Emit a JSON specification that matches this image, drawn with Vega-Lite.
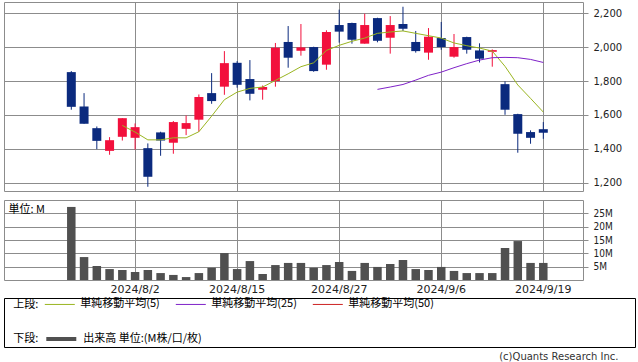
{
  "$schema": "https://vega.github.io/schema/vega-lite/v6.json",
  "padding": {"left": 3, "top": 1, "right": 0, "bottom": 0},
  "background": "white",
  "datasets": {
    "ohlc": [
      {"d": "2024/7/26", "o": 1853, "h": 1859, "l": 1631, "c": 1648, "v": 27.4, "ma5": null, "ma25": null},
      {"d": "2024/7/29", "o": 1650, "h": 1729, "l": 1548, "c": 1548, "v": 8.6, "ma5": null, "ma25": null},
      {"d": "2024/7/30", "o": 1522, "h": 1532, "l": 1398, "c": 1447, "v": 5.25, "ma5": null, "ma25": null},
      {"d": "2024/7/31", "o": 1388, "h": 1469, "l": 1365, "c": 1451, "v": 4.1, "ma5": null, "ma25": null},
      {"d": "2024/8/1", "o": 1471, "h": 1581, "l": 1449, "c": 1581, "v": 3.75, "ma5": 1538, "ma25": null},
      {"d": "2024/8/2", "o": 1465, "h": 1550, "l": 1396, "c": 1528, "v": 3.0, "ma5": 1499, "ma25": null},
      {"d": "2024/8/5", "o": 1404, "h": 1432, "l": 1176, "c": 1235, "v": 3.75, "ma5": 1453, "ma25": null},
      {"d": "2024/8/6", "o": 1497, "h": 1501, "l": 1359, "c": 1449, "v": 2.6, "ma5": 1453, "ma25": null},
      {"d": "2024/8/7", "o": 1436, "h": 1564, "l": 1371, "c": 1558, "v": 1.9, "ma5": 1465, "ma25": null},
      {"d": "2024/8/8", "o": 1518, "h": 1597, "l": 1481, "c": 1552, "v": 1.1, "ma5": 1465, "ma25": null},
      {"d": "2024/8/9", "o": 1572, "h": 1721, "l": 1501, "c": 1706, "v": 2.6, "ma5": 1501, "ma25": null},
      {"d": "2024/8/13", "o": 1729, "h": 1847, "l": 1666, "c": 1682, "v": 4.6, "ma5": 1593, "ma25": null},
      {"d": "2024/8/14", "o": 1767, "h": 1977, "l": 1719, "c": 1906, "v": 10.1, "ma5": 1690, "ma25": null},
      {"d": "2024/8/15", "o": 1908, "h": 1918, "l": 1761, "c": 1778, "v": 4.1, "ma5": 1735, "ma25": null},
      {"d": "2024/8/16", "o": 1812, "h": 1924, "l": 1686, "c": 1725, "v": 7.1, "ma5": 1757, "ma25": null},
      {"d": "2024/8/19", "o": 1749, "h": 1774, "l": 1690, "c": 1765, "v": 2.25, "ma5": 1765, "ma25": null},
      {"d": "2024/8/20", "o": 1800, "h": 2025, "l": 1767, "c": 1997, "v": 5.6, "ma5": 1804, "ma25": null},
      {"d": "2024/8/21", "o": 2031, "h": 2125, "l": 1879, "c": 1938, "v": 6.4, "ma5": 1843, "ma25": null},
      {"d": "2024/8/22", "o": 1979, "h": 2137, "l": 1950, "c": 1999, "v": 6.4, "ma5": 1885, "ma25": null},
      {"d": "2024/8/23", "o": 2001, "h": 2003, "l": 1855, "c": 1859, "v": 4.6, "ma5": 1908, "ma25": null},
      {"d": "2024/8/26", "o": 1897, "h": 2100, "l": 1867, "c": 2090, "v": 5.6, "ma5": 1981, "ma25": null},
      {"d": "2024/8/27", "o": 2131, "h": 2222, "l": 2027, "c": 2092, "v": 6.75, "ma5": 2011, "ma25": null},
      {"d": "2024/8/28", "o": 2143, "h": 2145, "l": 2021, "c": 2044, "v": 3.4, "ma5": 2035, "ma25": null},
      {"d": "2024/8/29", "o": 2021, "h": 2198, "l": 2021, "c": 2131, "v": 6.4, "ma5": 2054, "ma25": null},
      {"d": "2024/8/30", "o": 2172, "h": 2174, "l": 2029, "c": 2038, "v": 4.9, "ma5": 2082, "ma25": 1751},
      {"d": "2024/9/2", "o": 2056, "h": 2184, "l": 1962, "c": 2131, "v": 6.0, "ma5": 2090, "ma25": 1765},
      {"d": "2024/9/3", "o": 2137, "h": 2239, "l": 2096, "c": 2109, "v": 7.5, "ma5": 2096, "ma25": 1780},
      {"d": "2024/9/4", "o": 2031, "h": 2096, "l": 1968, "c": 1977, "v": 4.1, "ma5": 2082, "ma25": 1806},
      {"d": "2024/9/5", "o": 1968, "h": 2113, "l": 1926, "c": 2062, "v": 3.75, "ma5": 2068, "ma25": 1834},
      {"d": "2024/9/6", "o": 2054, "h": 2149, "l": 1985, "c": 2001, "v": 4.9, "ma5": 2054, "ma25": 1853},
      {"d": "2024/9/9", "o": 1944, "h": 2078, "l": 1938, "c": 2001, "v": 3.4, "ma5": 2025, "ma25": 1879},
      {"d": "2024/9/10", "o": 2060, "h": 2062, "l": 1962, "c": 1985, "v": 2.6, "ma5": 2009, "ma25": 1903},
      {"d": "2024/9/11", "o": 1981, "h": 2023, "l": 1910, "c": 1932, "v": 2.6, "ma5": 1995, "ma25": 1924},
      {"d": "2024/9/12", "o": 1973, "h": 1987, "l": 1885, "c": 1983, "v": 2.6, "ma5": 1977, "ma25": 1938},
      {"d": "2024/9/13", "o": 1782, "h": 1798, "l": 1601, "c": 1631, "v": 12.0, "ma5": 1887, "ma25": 1940},
      {"d": "2024/9/17", "o": 1605, "h": 1607, "l": 1377, "c": 1489, "v": 14.6, "ma5": 1777, "ma25": 1938},
      {"d": "2024/9/18", "o": 1499, "h": 1509, "l": 1430, "c": 1465, "v": 6.4, "ma5": 1698, "ma25": 1928},
      {"d": "2024/9/19", "o": 1516, "h": 1558, "l": 1459, "c": 1495, "v": 6.4, "ma5": 1617, "ma25": 1910}
    ]
  },
  "title": {
    "text": "(c)Quants Research Inc.",
    "orient": "bottom",
    "anchor": "end",
    "font": "DejaVu Sans",
    "fontSize": 10,
    "fontWeight": "normal",
    "color": "#333333",
    "offset": 4,
    "dx": -17
  },
  "spacing": 2,
  "vconcat": [
    {
      "spacing": 7,
      "vconcat": [
        {
          "width": 579,
          "height": 189,
          "data": {"name": "ohlc"},
          "encoding": {
            "x": {
              "field": "d",
              "type": "ordinal",
              "sort": null,
              "scale": {
                "type": "band",
                "paddingInner": 0,
                "paddingOuter": 0.694,
                "align": 0.559,
                "domain": ["_a", "_b", "_c", "_e", "2024/7/26", "2024/7/29", "2024/7/30", "2024/7/31", "2024/8/1", "2024/8/2", "2024/8/5", "2024/8/6", "2024/8/7", "2024/8/8", "2024/8/9", "2024/8/13", "2024/8/14", "2024/8/15", "2024/8/16", "2024/8/19", "2024/8/20", "2024/8/21", "2024/8/22", "2024/8/23", "2024/8/26", "2024/8/27", "2024/8/28", "2024/8/29", "2024/8/30", "2024/9/2", "2024/9/3", "2024/9/4", "2024/9/5", "2024/9/6", "2024/9/9", "2024/9/10", "2024/9/11", "2024/9/12", "2024/9/13", "2024/9/17", "2024/9/18", "2024/9/19", "_y", "_z"]
              },
              "axis": {
                "values": ["2024/8/2", "2024/8/15", "2024/8/27", "2024/9/6", "2024/9/19"],
                "labels": false,
                "ticks": false,
                "domain": false,
                "grid": true,
                "bandPosition": 0.5,
                "title": null
              }
            }
          },
          "layer": [
            {
              "mark": {"type": "rule", "strokeWidth": 1},
              "encoding": {
                "y": {
                  "field": "l",
                  "type": "quantitative",
                  "scale": {"domain": [1151, 2267], "nice": false, "zero": false},
                  "axis": {
                    "orient": "right",
                    "values": [1200, 1400, 1600, 1800, 2000, 2200],
                    "labelExpr": "format(datum.value, ',')",
                    "labelOverlap": false,
                    "labelFlush": false,
                    "title": null,
                    "domain": false,
                    "grid": true,
                    "ticks": true,
                    "tickSize": 5,
                    "labelPadding": 5,
                    "labelFont": "DejaVu Sans",
                    "labelFontSize": 10,
                    "labelColor": "#222222"
                  }
                },
                "y2": {"field": "h"},
                "color": {"condition": {"test": "datum.c >= datum.o", "value": "#f2103c"}, "value": "#0b2a7e"}
              }
            },
            {
              "mark": {"type": "bar", "size": 9},
              "encoding": {
                "y": {
                  "field": "o",
                  "type": "quantitative",
                  "axis": {
                    "orient": "right",
                    "values": [1200, 1400, 1600, 1800, 2000, 2200],
                    "labelExpr": "format(datum.value, ',')",
                    "labelOverlap": false,
                    "labelFlush": false,
                    "title": null,
                    "domain": false,
                    "grid": true,
                    "ticks": true,
                    "tickSize": 5,
                    "labelPadding": 5,
                    "labelFont": "DejaVu Sans",
                    "labelFontSize": 10,
                    "labelColor": "#222222"
                  }
                },
                "y2": {"field": "c"},
                "color": {"condition": {"test": "datum.c >= datum.o", "value": "#f2103c"}, "value": "#0b2a7e"}
              }
            },
            {
              "mark": {"type": "line", "strokeWidth": 1},
              "encoding": {
                "y": {
                  "field": "ma5",
                  "type": "quantitative",
                  "axis": {
                    "orient": "right",
                    "values": [1200, 1400, 1600, 1800, 2000, 2200],
                    "labelExpr": "format(datum.value, ',')",
                    "labelOverlap": false,
                    "labelFlush": false,
                    "title": null,
                    "domain": false,
                    "grid": true,
                    "ticks": true,
                    "tickSize": 5,
                    "labelPadding": 5,
                    "labelFont": "DejaVu Sans",
                    "labelFontSize": 10,
                    "labelColor": "#222222"
                  }
                },
                "stroke": {
                  "datum": "単純移動平均(5)",
                  "type": "nominal",
                  "scale": {
                    "domain": ["単純移動平均(5)", "単純移動平均(25)", "単純移動平均(50)"],
                    "range": ["#9ab520", "#7f22c8", "#cc2222"]
                  },
                  "legend": {
                    "orient": "none",
                    "legendX": 40.3,
                    "legendY": 286.7,
                    "direction": "horizontal",
                    "title": null,
                    "symbolType": "stroke",
                    "symbolSize": 900,
                    "symbolStrokeWidth": 1,
                    "labelFont": "Noto Sans CJK JP",
                    "labelFontSize": 11,
                    "labelColor": "#000000",
                    "labelOffset": 5,
                    "labelLimit": 300,
                    "columnPadding": 13,
                    "padding": 0
                  }
                }
              }
            },
            {
              "mark": {"type": "line", "strokeWidth": 1},
              "encoding": {
                "y": {
                  "field": "ma25",
                  "type": "quantitative",
                  "axis": {
                    "orient": "right",
                    "values": [1200, 1400, 1600, 1800, 2000, 2200],
                    "labelExpr": "format(datum.value, ',')",
                    "labelOverlap": false,
                    "labelFlush": false,
                    "title": null,
                    "domain": false,
                    "grid": true,
                    "ticks": true,
                    "tickSize": 5,
                    "labelPadding": 5,
                    "labelFont": "DejaVu Sans",
                    "labelFontSize": 10,
                    "labelColor": "#222222"
                  }
                },
                "stroke": {"datum": "単純移動平均(25)", "type": "nominal"}
              }
            }
          ]
        },
        {
          "width": 579,
          "height": 80,
          "data": {"name": "ohlc"},
          "mark": {"type": "bar", "size": 8.5},
          "encoding": {
            "x": {
              "field": "d",
              "type": "ordinal",
              "sort": null,
              "scale": {
                "type": "band",
                "paddingInner": 0,
                "paddingOuter": 0.694,
                "align": 0.559,
                "domain": ["_a", "_b", "_c", "_e", "2024/7/26", "2024/7/29", "2024/7/30", "2024/7/31", "2024/8/1", "2024/8/2", "2024/8/5", "2024/8/6", "2024/8/7", "2024/8/8", "2024/8/9", "2024/8/13", "2024/8/14", "2024/8/15", "2024/8/16", "2024/8/19", "2024/8/20", "2024/8/21", "2024/8/22", "2024/8/23", "2024/8/26", "2024/8/27", "2024/8/28", "2024/8/29", "2024/8/30", "2024/9/2", "2024/9/3", "2024/9/4", "2024/9/5", "2024/9/6", "2024/9/9", "2024/9/10", "2024/9/11", "2024/9/12", "2024/9/13", "2024/9/17", "2024/9/18", "2024/9/19", "_y", "_z"]
              },
              "axis": {
                "values": ["2024/8/2", "2024/8/15", "2024/8/27", "2024/9/6", "2024/9/19"],
                "labelAngle": 0,
                "ticks": false,
                "domain": false,
                "grid": true,
                "bandPosition": 0.5,
                "title": null,
                "labelPadding": 3,
                "labelFont": "DejaVu Sans",
                "labelFontSize": 11,
                "labelColor": "#222222"
              }
            },
            "y": {
              "field": "v",
              "type": "quantitative",
              "scale": {"domain": [0, 30], "nice": false},
              "axis": {
                "orient": "right",
                "values": [5, 10, 15, 20, 25],
                "labelExpr": "datum.value + 'M'",
                "labelOverlap": false,
                "title": "単位: M",
                "titleX": -575,
                "titleY": 9,
                "titleAngle": 0,
                "titleAlign": "left",
                "titleBaseline": "middle",
                "titleFont": "Noto Sans CJK JP",
                "titleFontSize": 11,
                "titleFontWeight": "normal",
                "titleColor": "#000000",
                "domain": false,
                "grid": true,
                "ticks": true,
                "tickSize": 5,
                "labelPadding": 5,
                "labelFont": "Liberation Sans Narrow, DejaVu Sans Condensed, DejaVu Sans",
                "labelFontSize": 10,
                "labelColor": "#222222"
              }
            },
            "fill": {
              "datum": "出来高 単位:(M株/口/枚)",
              "type": "nominal",
              "scale": {"range": ["#505050"]},
              "legend": {
                "orient": "none",
                "legendX": 40.3,
                "legendY": 320,
                "title": null,
                "symbolType": "stroke",
                "symbolSize": 900,
                "symbolStrokeWidth": 4,
                "symbolStrokeColor": "#505050",
                "labelFont": "Noto Sans CJK JP",
                "labelFontSize": 11,
                "labelColor": "#000000",
                "labelOffset": 5,
                "labelLimit": 300,
                "padding": 0
              }
            }
          }
        }
      ]
    },
    {
      "width": 631,
      "height": 49,
      "data": {"values": []},
      "mark": {"type": "point"},
      "encoding": {
        "x": {
          "field": "a",
          "type": "nominal",
          "scale": {"domain": ["a"]},
          "axis": {
            "title": "上段:",
            "labels": false,
            "ticks": false,
            "domain": false,
            "grid": false,
            "titleX": 8.7,
            "titleY": -43,
            "titleAngle": 0,
            "titleAlign": "left",
            "titleBaseline": "middle",
            "titleFont": "Noto Sans CJK JP",
            "titleFontSize": 11,
            "titleFontWeight": "normal",
            "titleColor": "#000000"
          }
        },
        "y": {
          "field": "b",
          "type": "nominal",
          "scale": {"domain": ["b"]},
          "axis": {
            "title": "下段:",
            "labels": false,
            "ticks": false,
            "domain": false,
            "grid": false,
            "titleX": 8.7,
            "titleY": 40.3,
            "titleAngle": 0,
            "titleAlign": "left",
            "titleBaseline": "middle",
            "titleFont": "Noto Sans CJK JP",
            "titleFontSize": 11,
            "titleFontWeight": "normal",
            "titleColor": "#000000"
          }
        }
      },
      "view": {"stroke": "#000000", "strokeWidth": 1}
    }
  ],
  "resolve": {"scale": {"x": "independent", "y": "independent"}},
  "config": {
    "view": {"stroke": "#8c8c8c", "strokeWidth": 1},
    "axis": {"gridColor": "#8c8c8c", "gridOpacity": 1, "gridWidth": 1, "tickColor": "#8c8c8c", "tickWidth": 1}
  }
}
